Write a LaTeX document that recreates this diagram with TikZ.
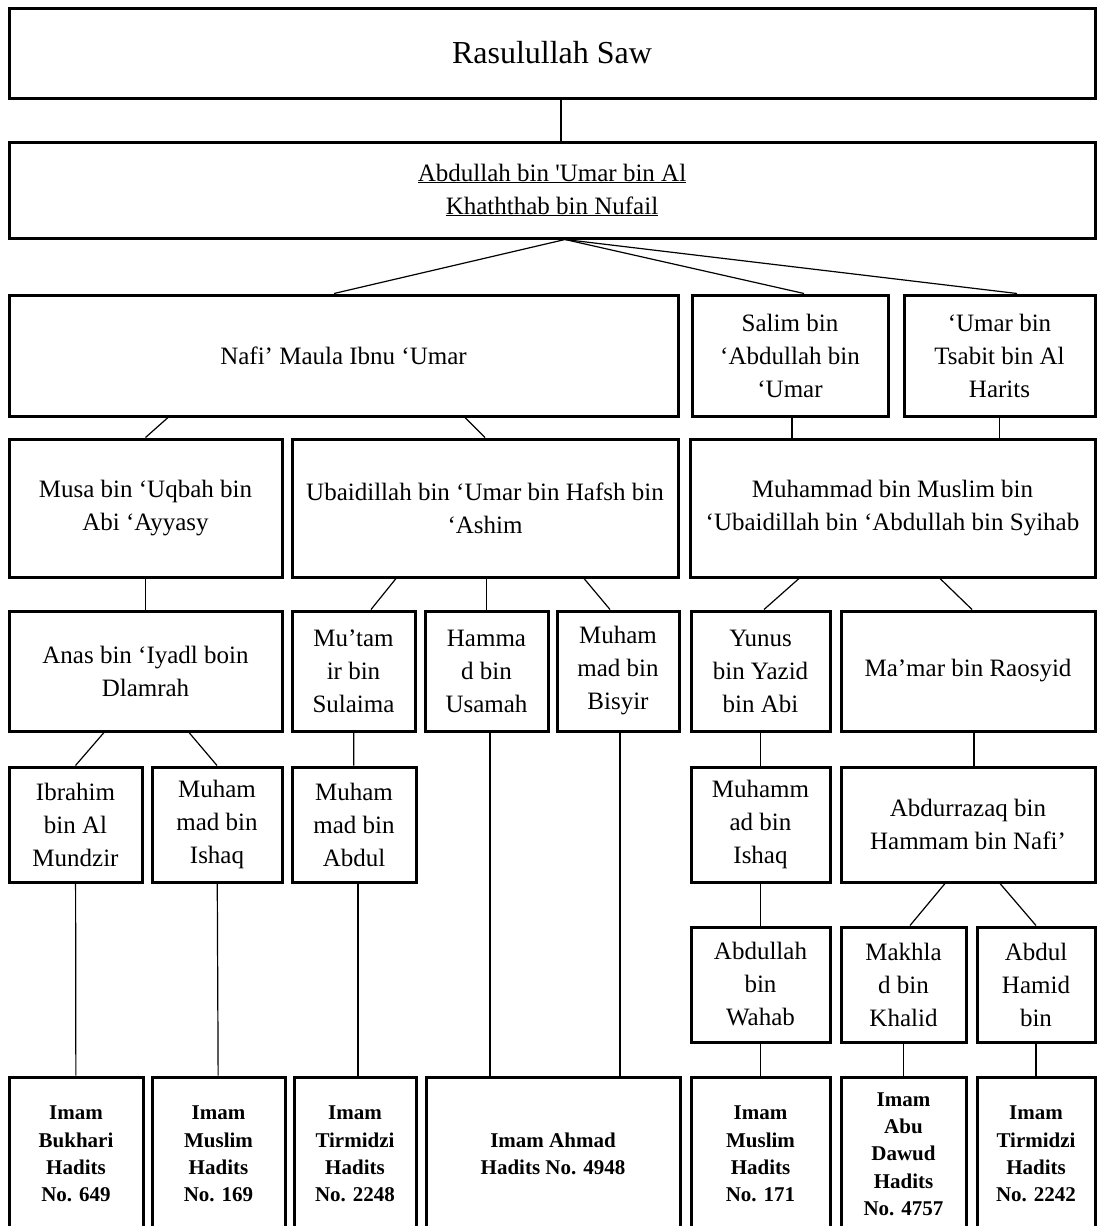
\documentclass[tikz,border=0pt]{standalone}
\usepackage{fontspec}
\setmainfont{Liberation Serif}
\usetikzlibrary{positioning}

\tikzstyle{person} = [align=center,draw=black,line width=3pt,rectangle,inner sep=0pt,font=\fontsize{25}{33}\selectfont]
\tikzstyle{imam} = [person,font=\bfseries\fontsize{21}{27.3}\selectfont]
\tikzstyle{link} = [draw=black,line width=1.2pt]
\tikzset{wh/.style 2 args={minimum width=#1pt,minimum height=#2pt}}

\begin{document}
\begin{tikzpicture}[x=1pt,y=-1pt]
	\useasboundingbox (0,0) rectangle (1097,1226);
	\clip (0,0) rectangle (1097,1226);
	% top of the chain
	\node (ras) [person,wh={1086}{90},font=\fontsize{32}{38}\selectfont] at (552,53) {Rasulullah Saw};
	\node (abd) [person,wh={1086}{96}] at (552,190) {\underline{Abdullah bin \textquotesingle Umar bin Al}\\\underline{Khaththab bin Nufail}};
	% tabi'in
	\node (nafi) [person,wh={669}{121}] at (343.5,355.5) {Nafi’ Maula Ibnu ‘Umar};
	\node (salim) [person,wh={196}{121}] at (790,355.5) {Salim bin\\‘Abdullah bin\\‘Umar};
	\node (umar) [person,wh={191}{121}] at (999.5,355.5) {‘Umar bin\\Tsabit bin Al\\Harits};
	\node (musa) [person,wh={273}{138}] at (145.5,508) {Musa bin ‘Uqbah bin\\Abi ‘Ayyasy};
	\node (ubaid) [person,wh={386}{138}] at (485,508) {Ubaidillah bin ‘Umar bin Hafsh bin\\‘Ashim};
	\node (zuhri) [person,wh={405}{138}] at (892.5,508) {Muhammad bin Muslim bin\\‘Ubaidillah bin ‘Abdullah bin Syihab};
	% next generation
	\node (anas) [person,wh={273}{120}] at (145.5,671) {Anas bin ‘Iyadl boin\\Dlamrah};
	\node (mutamir) [person,wh={123}{120}] at (353.5,671) {Mu’tam\\ir bin\\Sulaima};
	\node (hammad) [person,wh={123}{120}] at (486.5,671) {Hamma\\d bin\\Usamah};
	\node (bisyir) [person,wh={122}{120}] at (618,671) {Muham\\mad bin\\Bisyir};
	\node (yunus) [person,wh={139}{120}] at (760.5,671) {Yunus\\bin Yazid\\bin Abi};
	\node (mamar) [person,wh={254}{120}] at (968,671) {Ma’mar bin Raosyid};
	\node (ibrahim) [person,wh={133}{115}] at (75.5,824.5) {Ibrahim\\bin Al\\Mundzir};
	\node (ishaqA) [person,wh={130}{115}] at (217,824.5) {Muham\\mad bin\\Ishaq};
	\node (abdul) [person,wh={124}{115}] at (354,824.5) {Muham\\mad bin\\Abdul};
	\node (ishaqB) [person,wh={139}{115}] at (760.5,824.5) {Muhamm\\ad bin\\Ishaq};
	\node (razaq) [person,wh={254}{115}] at (968,824.5) {Abdurrazaq bin\\Hammam bin Nafi’};
	\node (wahab) [person,wh={139}{115}] at (760.5,984.5) {Abdullah\\bin\\Wahab};
	\node (makhlad) [person,wh={125}{115}] at (903.5,984.5) {Makhla\\d bin\\Khalid};
	\node (hamid) [person,wh={118}{115}] at (1036,984.5) {Abdul\\Hamid\\bin};
	% mukharrij
	\node (bukhari) [imam,wh={134}{154}] at (76,1154) {Imam\\Bukhari\\Hadits\\No. 649};
	\node (muslimA) [imam,wh={133}{154}] at (218.5,1154) {Imam\\Muslim\\Hadits\\No. 169};
	\node (tirmA) [imam,wh={122}{154}] at (355,1154) {Imam\\Tirmidzi\\Hadits\\No. 2248};
	\node (ahmad) [imam,wh={254}{154}] at (553,1154) {Imam Ahmad\\Hadits No. 4948};
	\node (muslimB) [imam,wh={139}{154}] at (760.5,1154) {Imam\\Muslim\\Hadits\\No. 171};
	\node (dawud) [imam,wh={125}{154}] at (903.5,1154) {Imam\\Abu\\Dawud\\Hadits\\No. 4757};
	\node (tirmB) [imam,wh={118}{154}] at (1036,1154) {Imam\\Tirmidzi\\Hadits\\No. 2242};
	% links
	\draw [link] ([xshift=9pt]ras.south) -- ([xshift=9pt]abd.north);
	\draw [link] ([xshift=13pt]abd.south) -- ([xshift=-9.5pt]nafi.north);
	\draw [link] ([xshift=13pt]abd.south) -- ([xshift=14pt]salim.north);
	\draw [link] ([xshift=13pt]abd.south) -- ([xshift=17.5pt]umar.north);
	\draw [link] ([xshift=-175.5pt]nafi.south) -- (musa.north);
	\draw [link] ([xshift=121.5pt]nafi.south) -- (ubaid.north);
	\draw [link] ([xshift=2pt]salim.south) -- ([xshift=2pt]salim.south |- zuhri.north);
	\draw [link] (umar.south) -- (umar.south |- zuhri.north);
	\draw [link] (musa) -- (anas);
	\draw [link] ([xshift=-89pt]ubaid.south) -- ([xshift=17.5pt]mutamir.north);
	\draw [link] (ubaid.south -| hammad.north) -- (hammad.north);
	\draw [link] ([xshift=99pt]ubaid.south) -- ([xshift=-8pt]bisyir.north);
	\draw [link] ([xshift=-93.5pt]zuhri.south) -- ([xshift=3.5pt]yunus.north);
	\draw [link] ([xshift=47.5pt]zuhri.south) -- ([xshift=4pt]mamar.north);
	\draw [link] ([xshift=-41.5pt]anas.south) -- (ibrahim.north);
	\draw [link] ([xshift=43.5pt]anas.south) -- (ishaqA.north);
	\draw [link] (mutamir) -- (abdul);
	\draw [link] (yunus) -- (ishaqB);
	\draw [link] ([xshift=6pt]mamar.south) -- ([xshift=6pt]razaq.north);
	\draw [link] (ishaqB) -- (wahab);
	\draw [link] ([xshift=-23pt]razaq.south) -- ([xshift=6.5pt]makhlad.north);
	\draw [link] ([xshift=32pt]razaq.south) -- (hamid.north);
	\draw [link] (ibrahim) -- (bukhari);
	\draw [link] (ishaqA) -- (muslimA);
	\draw [link] ([xshift=4pt]abdul.south) -- ([xshift=3pt]tirmA.north);
	\draw [link] ([xshift=3.5pt]hammad.south) -- ([xshift=3.5pt]hammad.south |- ahmad.north);
	\draw [link] ([xshift=2pt]bisyir.south) -- ([xshift=2pt]bisyir.south |- ahmad.north);
	\draw [link] (wahab) -- (muslimB);
	\draw [link] (makhlad) -- (dawud);
	\draw [link] (hamid) -- (tirmB);
\end{tikzpicture}
\end{document}
